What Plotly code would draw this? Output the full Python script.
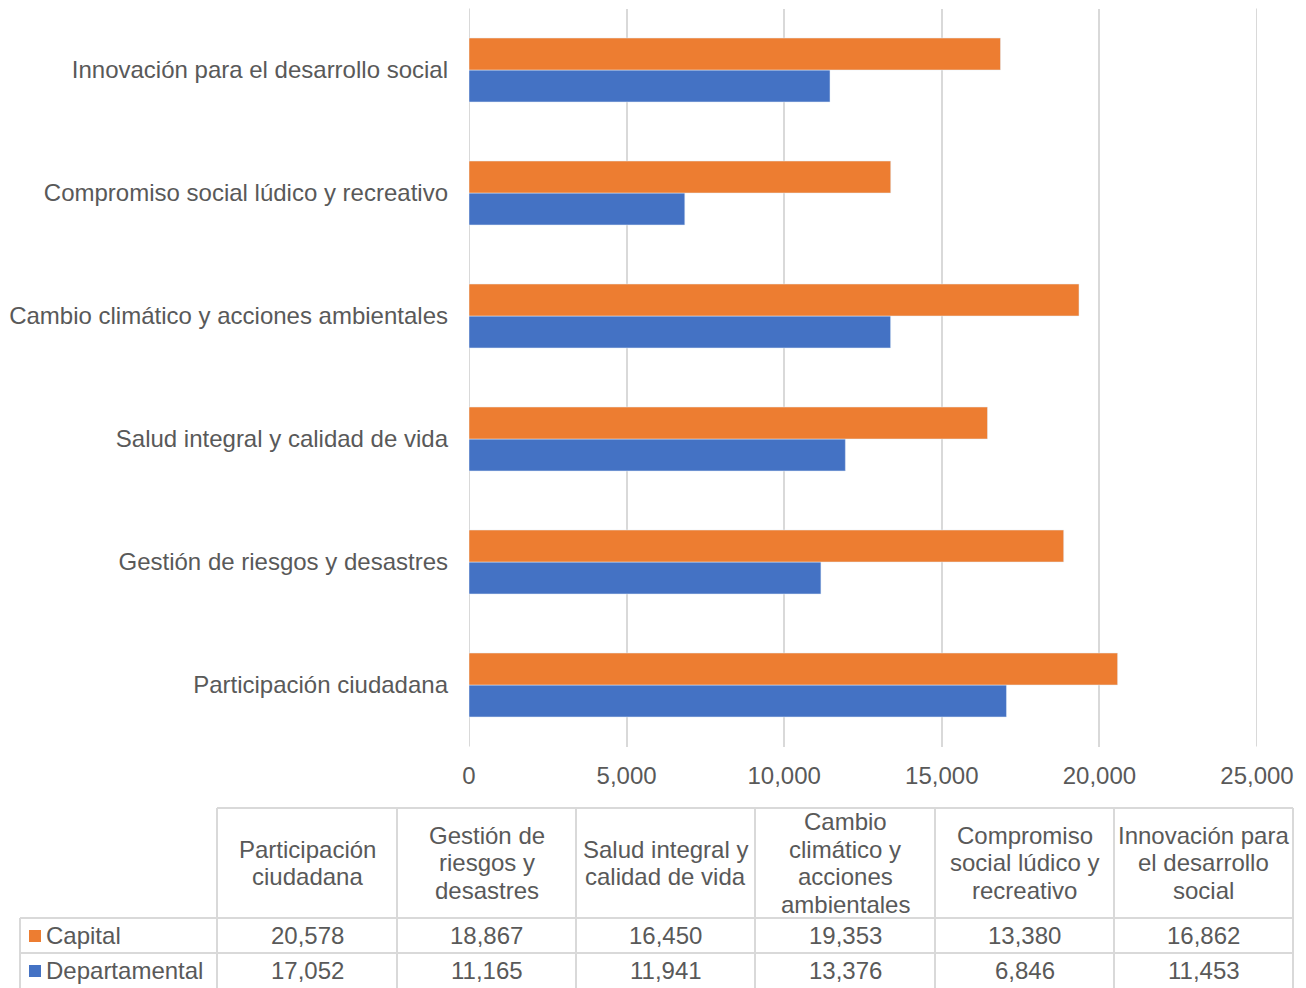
import plotly.graph_objects as go

categories = ["Participación ciudadana", "Gestión de riesgos y desastres",
              "Salud integral y calidad de vida", "Cambio climático y acciones ambientales",
              "Compromiso social lúdico y recreativo", "Innovación para el desarrollo social"]
table_headers = ["Participación<br>ciudadana", "Gestión de<br>riesgos y<br>desastres",
                 "Salud integral y<br>calidad de vida", "Cambio<br>climático y<br>acciones<br>ambientales",
                 "Compromiso<br>social lúdico y<br>recreativo", "Innovación para<br>el desarrollo<br>social"]
capital = [20578, 18867, 16450, 19353, 13380, 16862]
departamental = [17052, 11165, 11941, 13376, 6846, 11453]
x_ticks = [0, 5000, 10000, 15000, 20000, 25000]

W, H = 1306, 988
ORANGE = "#ED7D31"
BLUE = "#4472C4"
TXT = "#595959"
GRID = "#D9D9D9"
FONT = "Liberation Sans, Arial, sans-serif"
FS = 24

def px(x):
    return x / W

def py(y):
    return 1 - y / H

fig = go.Figure()
fig.add_trace(go.Bar(y=categories, x=departamental, orientation="h", name="Departamental",
                     marker=dict(color=BLUE), showlegend=False))
fig.add_trace(go.Bar(y=categories, x=capital, orientation="h", name="Capital",
                     marker=dict(color=ORANGE), showlegend=False))

fig.update_layout(
    width=W, height=H, autosize=False, showlegend=False,
    margin=dict(l=0, r=0, t=0, b=0, pad=0, autoexpand=False),
    paper_bgcolor="white", plot_bgcolor="white",
    barmode="group", bargap=0.48, bargroupgap=0,
    font=dict(family=FONT, size=FS, color=TXT),
    xaxis=dict(domain=[px(469), px(1257)], range=[0, 25000], tickvals=x_ticks,
               tickformat=",", showgrid=True, gridcolor=GRID, gridwidth=2,
               zeroline=False, showline=False, ticks="", ticklabelstandoff=12,
               automargin=False, tickfont=dict(size=FS, color=TXT)),
    yaxis=dict(domain=[py(746.5), py(8.5)], type="category", showgrid=False,
               showline=False, ticks="", ticklabelstandoff=20, automargin=False,
               tickfont=dict(size=FS, color=TXT)),
)

shapes = []
# edge gridlines (at first and last tick) drawn explicitly, beneath bars
for tv in (x_ticks[0], x_ticks[-1]):
    shapes.append(dict(type="line", xref="x", yref="y domain", x0=tv, x1=tv, y0=0, y1=1,
                       line=dict(color=GRID, width=2), layer="below"))

line = dict(color=GRID, width=2)
col_edges = [217, 397, 576, 755, 935, 1114, 1293]
y_top, y_head, y_r1, y_bot = 808, 918, 953, 990
shapes.append(dict(type="line", xref="paper", yref="paper", x0=px(217), x1=px(1293), y0=py(y_top), y1=py(y_top), line=line))
for yy in [y_head, y_r1]:
    shapes.append(dict(type="line", xref="paper", yref="paper", x0=px(20), x1=px(1293), y0=py(yy), y1=py(yy), line=line))
shapes.append(dict(type="line", xref="paper", yref="paper", x0=px(20), x1=px(20), y0=py(y_head), y1=py(y_bot), line=line))
for xx in col_edges:
    shapes.append(dict(type="line", xref="paper", yref="paper", x0=px(xx), x1=px(xx), y0=py(y_top), y1=py(y_bot), line=line))

annotations = []
LINE_H = 27.5
HEAD_C = 862.8
for i, hdr in enumerate(table_headers):
    cx = (col_edges[i] + col_edges[i + 1]) / 2
    parts = hdr.split("<br>")
    n = len(parts)
    for k, part in enumerate(parts):
        yk = HEAD_C + (k - (n - 1) / 2) * LINE_H
        annotations.append(dict(xref="paper", yref="paper", x=px(cx), y=py(yk), text=part,
                                showarrow=False, xanchor="center", yanchor="middle",
                                font=dict(size=FS, color=TXT)))
    annotations.append(dict(xref="paper", yref="paper", x=px(cx), y=py(935.5), text=f"{capital[i]:,}",
                            showarrow=False, xanchor="center", yanchor="middle",
                            font=dict(size=FS, color=TXT)))
    annotations.append(dict(xref="paper", yref="paper", x=px(cx), y=py(970.5), text=f"{departamental[i]:,}",
                            showarrow=False, xanchor="center", yanchor="middle",
                            font=dict(size=FS, color=TXT)))

for name, color, yc in [("Capital", ORANGE, 936), ("Departamental", BLUE, 971)]:
    shapes.append(dict(type="rect", xref="paper", yref="paper", x0=px(29), x1=px(41),
                       y0=py(yc + 6), y1=py(yc - 6), fillcolor=color, line=dict(width=0)))
    annotations.append(dict(xref="paper", yref="paper", x=px(44), y=py(yc - 0.5), text=name,
                            showarrow=False, xanchor="left", yanchor="middle",
                            font=dict(size=FS, color=TXT)))

fig.update_layout(shapes=shapes, annotations=annotations)
fig.write_html("out.html", config={"displayModeBar": False},
               post_script="document.body.style.margin='0';document.body.style.padding='0';"
                           "document.body.style.overflow='hidden';"
                           "document.documentElement.style.overflow='hidden';")
